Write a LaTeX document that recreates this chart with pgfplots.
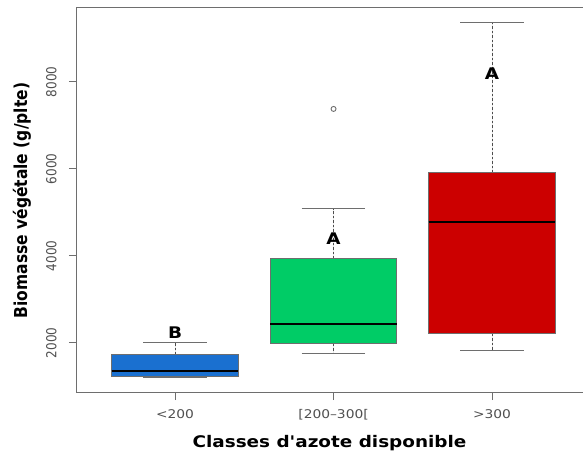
\documentclass[border=0pt]{standalone}
\usepackage{fontspec}
\setmainfont{DejaVu Sans}[FakeStretch=1.15, Ligatures=TeXOff]
\newfontfamily\rotfont{DejaVu Sans}[Ligatures=TeXOff]
\usepackage{graphicx}
\usepackage{pgfplots}
\pgfplotsset{compat=1.18}
\usepgfplotslibrary{statistics}
\definecolor{cblue}{RGB}{26,112,208}
\definecolor{cgreen}{RGB}{0,204,102}
\definecolor{cred}{RGB}{204,0,0}
\definecolor{axgray}{RGB}{110,110,110}
\definecolor{txgray}{RGB}{80,80,80}
\pgfplotsset{
  boxplot/draw/lower whisker/.code={%
    \draw[axgray!70!black, dashed, dash pattern=on 2.5bp off 2bp, line width=0.9bp]
      (boxplot box cs:\pgfplotsboxplotvalue{lower quartile},0.5) --
      (boxplot box cs:\pgfplotsboxplotvalue{lower whisker},0.5);
    \draw[axgray, line width=1bp]
      (boxplot whisker cs:\pgfplotsboxplotvalue{lower whisker},0) --
      (boxplot whisker cs:\pgfplotsboxplotvalue{lower whisker},1);
  },
  boxplot/draw/upper whisker/.code={%
    \draw[axgray!70!black, dashed, dash pattern=on 2.5bp off 2bp, line width=0.9bp]
      (boxplot box cs:\pgfplotsboxplotvalue{upper quartile},0.5) --
      (boxplot box cs:\pgfplotsboxplotvalue{upper whisker},0.5);
    \draw[axgray, line width=1bp]
      (boxplot whisker cs:\pgfplotsboxplotvalue{upper whisker},0) --
      (boxplot whisker cs:\pgfplotsboxplotvalue{upper whisker},1);
  },
}
\begin{document}
\begin{tikzpicture}
\begin{axis}[
  scale only axis, width=507bp, height=385bp,
  xmin=0.375, xmax=3.574, ymin=850, ymax=9700,
  axis x line*=box, axis y line*=left,
  axis line style={axgray, line width=1bp},
  xtick={1,2,3},
  xticklabels={{<200},{[200–300[},{>300}},
  ytick={2000,4000,6000,8000},
  yticklabels={{\scalebox{1}[1.15]{2000}},{\scalebox{1}[1.15]{4000}},{\scalebox{1}[1.15]{6000}},{\scalebox{1}[1.15]{8000}}},
  xtick pos=left,
  tick align=outside, major tick length=7bp,
  tick style={axgray, line width=1bp},
  xticklabel style={font=\fontsize{12bp}{14bp}\selectfont, text=txgray, yshift=-6bp},
  yticklabel style={font=\rotfont\fontsize{12bp}{14bp}\selectfont, text=txgray, rotate=90, anchor=south},
  yticklabel shift=9bp,
  ylabel={\scalebox{1}[1.15]{Biomasse végétale (g/plte)}},
  ylabel style={font=\rotfont\fontsize{15.5bp}{17bp}\selectfont\bfseries, at={(axis description cs:-0.1065,0.5)}, anchor=center},
  xlabel={Classes d'azote disponible},
  xlabel style={font=\fontsize{16bp}{18bp}\selectfont\bfseries, at={(axis description cs:0.5,0)}, anchor=center, yshift=-50bp},
  boxplot/draw direction=y,
  boxplot/box extend=0.8,
  boxplot/whisker extend=0.4,
  boxplot/every median/.style={black, line width=2.7bp},
  clip=false,
]
\addplot[boxplot prepared={draw position=1, lower whisker=1195, lower quartile=1225, median=1356, upper quartile=1724, upper whisker=2000}, fill=cblue, draw=axgray, line width=1bp] coordinates {};
\addplot[boxplot prepared={draw position=2, lower whisker=1747, lower quartile=1977, median=2437, upper quartile=3931, upper whisker=5080}, fill=cgreen, draw=axgray, line width=1bp] coordinates {};
\addplot[boxplot prepared={draw position=3, lower whisker=1816, lower quartile=2207, median=4782, upper quartile=5908, upper whisker=9356}, fill=cred, draw=axgray, line width=1bp] coordinates {};
\addplot[only marks, mark=o, mark size=2.5bp, draw=axgray, line width=0.9bp] coordinates {(2,7380)};
\node[font=\fontsize{16bp}{18bp}\selectfont\bfseries] at (axis cs:1,2230) {B};
\node[font=\fontsize{16bp}{18bp}\selectfont\bfseries] at (axis cs:2,4390) {A};
\node[font=\fontsize{16bp}{18bp}\selectfont\bfseries] at (axis cs:3,8180) {A};
\end{axis}
\pgfresetboundingbox
\useasboundingbox (current axis.south west) ++(-76bp,-62bp) rectangle ++(585bp,455bp);
\end{tikzpicture}
\end{document}
